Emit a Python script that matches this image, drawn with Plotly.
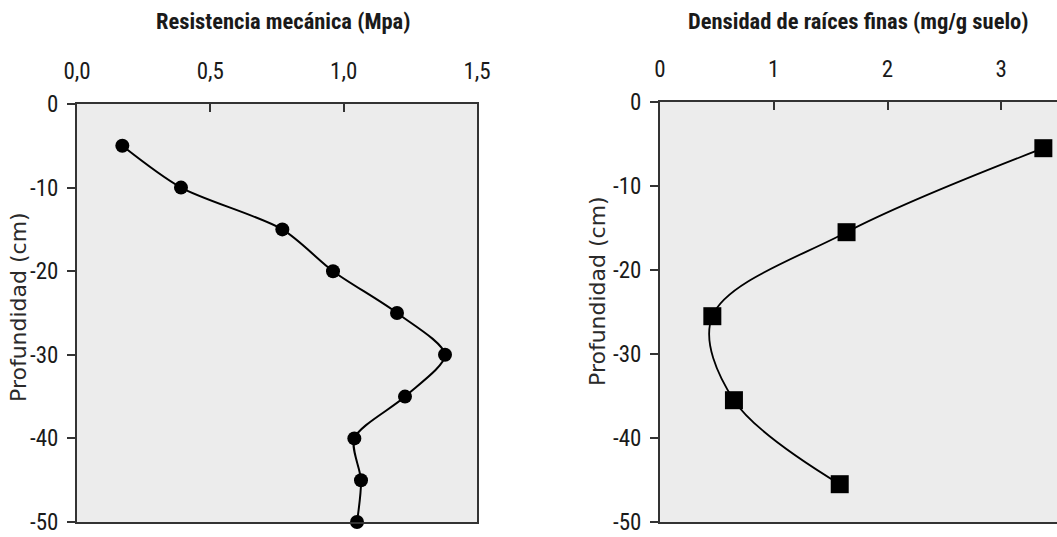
import plotly.graph_objects as go

# Left panel: Resistencia mecánica (MPa) vs depth
res_depth = [-5, -10, -15, -20, -25, -30, -35, -40, -45, -50]
res_value = [0.17, 0.39, 0.77, 0.96, 1.20, 1.38, 1.23, 1.04, 1.065, 1.05]

# Right panel: Densidad de raíces finas (mg/g suelo) vs depth
root_depth = [-5.5, -15.5, -25.5, -35.5, -45.5]
root_value = [3.37, 1.64, 0.46, 0.65, 1.58]

left_xticks = [0, 0.5, 1.0, 1.5]
left_xtext = ["0,0", "0,5", "1,0", "1,5"]
right_xticks = [0, 1, 2, 3]
right_xtext = ["0", "1", "2", "3"]
y_ticks = [0, -10, -20, -30, -40, -50]
y_text = ["0", "-10", "-20", "-30", "-40", "-50"]

W, H = 1057, 537
NARROW = "Liberation Sans Narrow, Arial Narrow, Roboto Condensed, Liberation Sans, Arial"
TEXT = "#1a1a1a"
AXC = "#333333"

fig = go.Figure()
fig.add_trace(go.Scatter(
    x=res_value, y=res_depth, mode="lines+markers",
    line=dict(color="black", width=2, shape="spline", smoothing=0.8),
    marker=dict(symbol="circle", size=14, color="black"),
    cliponaxis=False, xaxis="x", yaxis="y", showlegend=False))
fig.add_trace(go.Scatter(
    x=root_value, y=root_depth, mode="lines+markers",
    line=dict(color="black", width=1.8, shape="spline", smoothing=1.0),
    marker=dict(symbol="square", size=18, color="black"),
    cliponaxis=False, xaxis="x2", yaxis="y2", showlegend=False))

common_x = dict(side="top", ticks="inside", ticklen=8, tickwidth=1.5, tickcolor=AXC,
                showline=True, linecolor=AXC, linewidth=2, showgrid=False, zeroline=False,
                tickfont=dict(family=NARROW, size=23, color=TEXT), ticklabelstandoff=14,
                ticklabeloverflow="allow", automargin=False)
common_y = dict(ticks="outside", ticklen=8, tickwidth=1.5, tickcolor=AXC,
                showline=True, linecolor=AXC, linewidth=2, showgrid=False, zeroline=False,
                tickfont=dict(family=NARROW, size=23, color=TEXT), ticklabelstandoff=4,
                ticklabeloverflow="allow",
                tickvals=y_ticks, ticktext=y_text, range=[-50, 0], automargin=False)

fig.update_layout(
    width=W, height=H,
    margin=dict(l=0, r=0, t=0, b=0),
    paper_bgcolor="white", plot_bgcolor="#ececec",
    xaxis=dict(common_x, domain=[77 / W, 477 / W], range=[0, 1.5], mirror=True,
               tickvals=left_xticks, ticktext=left_xtext, anchor="y"),
    yaxis=dict(common_y, domain=[1 - 522 / H, 1 - 104 / H], mirror=True, anchor="x"),
    xaxis2=dict(common_x, domain=[660 / W, 1.0], range=[0, 3.49], mirror=True,
                tickvals=right_xticks, ticktext=right_xtext, anchor="y2"),
    yaxis2=dict(common_y, domain=[1 - 522 / H, 1 - 102 / H], mirror=False, anchor="x2"),
    annotations=[
        dict(text="<b>Resistencia mecánica (Mpa)</b>", xref="paper", yref="paper",
             x=283 / W, y=1 - 21 / H, showarrow=False, xanchor="center", yanchor="middle",
             font=dict(family=NARROW, size=22.5, color=TEXT)),
        dict(text="<b>Densidad de raíces finas (mg/g suelo)</b>", xref="paper", yref="paper",
             x=858 / W, y=1 - 21 / H, showarrow=False, xanchor="center", yanchor="middle",
             font=dict(family=NARROW, size=22.5, color=TEXT)),
        dict(text="Profundidad (cm)", xref="paper", yref="paper", textangle=-90,
             x=18 / W, y=1 - 307 / H, showarrow=False, xanchor="center", yanchor="middle",
             font=dict(family="DejaVu Sans", size=22, color="#2a2a2a")),
        dict(text="Profundidad (cm)", xref="paper", yref="paper", textangle=-90,
             x=597 / W, y=1 - 291 / H, showarrow=False, xanchor="center", yanchor="middle",
             font=dict(family="DejaVu Sans", size=22, color="#2a2a2a")),
    ],
)

fig.write_html("out.html")
